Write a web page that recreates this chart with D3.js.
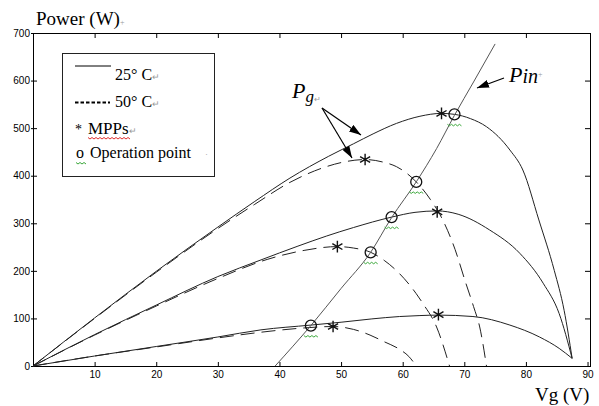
<!DOCTYPE html>
<html>
<head>
<meta charset="utf-8">
<script src="https://cdn.jsdelivr.net/npm/d3@7"></script>
<style>
	body { margin: 0; background: #fff; }
	svg { display: block; }
	.tick text { font-family: "Liberation Sans", Arial, sans-serif; font-size: 10px; fill: #000; }
	.tick line { stroke: #000; }
</style>
</head>
<body>
<div id="chart"></div>
<script>
// x axis (Vg) and y axis (power) ticks
const voltTicks = [10, 20, 30, 40, 50, 60, 70, 80, 90];
const powerTicks = [0, 100, 200, 300, 400, 500, 600, 700];

// Pg curves, [Vg, P]
const pg25High = [[0, 0], [10, 101], [20, 199], [30, 292], [36, 346], [41.7, 395], [48, 441], [52, 467], [55.2, 488], [59, 510], [62.8, 525], [66.3, 531], [68.4, 529], [71, 520], [73.6, 503], [77.4, 454], [79.5, 412], [82.1, 307], [84.6, 201], [86.2, 117], [87.5, 16]];
const pg50High = [[0, 0], [10, 100], [20, 197], [30, 289], [36, 340], [41.7, 386], [47.6, 419], [50.5, 429], [53.9, 434], [57, 428], [59, 419], [62.2, 387], [64.5, 350], [66.5, 307], [68.5, 245], [70.1, 180], [71.5, 125], [72.5, 82], [73.6, 0]];
const pg25Mid = [[0, 0], [10, 66], [20, 128], [30, 188], [37, 223], [43, 252], [47.6, 273], [52, 291], [58.2, 313], [62, 323], [65.6, 326], [69, 319], [74.1, 286], [79, 237], [82.8, 174], [85.4, 110], [87.5, 16]];
const pg50Mid = [[0, 0], [10, 65], [20, 126], [30, 184], [38, 224], [44, 243], [49.4, 251], [52, 248], [54.8, 239], [57, 222], [59.5, 194], [62.2, 152], [63.3, 131], [65.5, 82], [67.6, 0]];
const pg25Low = [[0, 0], [10, 21], [20, 41], [30, 61], [37, 76], [45.1, 86], [50, 92], [55, 99], [59.5, 104], [62.8, 106], [65.8, 107], [71.4, 104], [77.4, 86], [82.2, 61], [85.4, 37], [87.5, 16]];
const pg50Low = [[0, 0], [10, 21], [20, 40], [30, 59], [37, 71], [44, 80], [48.7, 83], [52, 77], [54.7, 65], [57, 51], [59.5, 35], [61, 20], [62.2, 0]];

// input power line
const pinCurve = [[39.3, 0], [45.1, 85], [50, 163], [54.8, 239], [58.2, 312], [62.2, 387], [65.5, 457], [68.4, 527], [71.5, 597], [75, 677]];

// maximum power points and operation points
const mppVolt = [66.3, 53.9, 65.6, 49.4, 65.8, 48.7];
const mppPower = [531, 434, 324, 251, 108, 83];
const opVolt = [68.4, 62.2, 58.2, 54.8, 45.1];
const opPower = [529, 387, 313, 239, 85];

const width = 599, height = 406;
const margin = { top: 33, right: 9, bottom: 40, left: 33 };

const svg = d3.select("#chart")
	.append("svg")
	.attr("width", width)
	.attr("height", height);

const x = d3.scaleLinear()
	.domain([0, 90.4])
	.range([margin.left, width - margin.right]);

const y = d3.scaleLinear()
	.domain([0, 700])
	.range([height - margin.bottom, margin.top]);

const serif = '"Liberation Serif", "Times New Roman", serif';

// axes, ticks point inwards
svg.append("g")
	.attr("transform", "translate(0," + y(0) + ")")
	.call(d3.axisBottom(x).tickValues(voltTicks).tickSize(-4).tickPadding(5))
	.call((g) => g.select(".domain").remove());

svg.append("g")
	.attr("transform", "translate(" + x(0) + ",0)")
	.call(d3.axisLeft(y).tickValues(powerTicks).tickSize(-4).tickPadding(3))
	.call((g) => g.select(".domain").remove())
	.call((g) => g.selectAll(".tick line").attr("x1", -2));

svg.append("g")
	.attr("transform", "translate(0," + y(700) + ")")
	.call(d3.axisTop(x).tickValues(voltTicks.slice(0, 8)).tickSize(-5).tickFormat(""))
	.call((g) => g.select(".domain").remove());

svg.append("g")
	.attr("transform", "translate(" + x.range()[1] + ",0)")
	.call(d3.axisRight(y).tickValues(powerTicks.slice(1, 7)).tickSize(-5).tickFormat(""))
	.call((g) => g.select(".domain").remove());

svg.append("rect")
	.attr("x", x(0))
	.attr("y", y(700))
	.attr("width", x.range()[1] - x(0))
	.attr("height", y(0) - y(700))
	.attr("fill", "none")
	.attr("stroke", "#000")
	.attr("shape-rendering", "crispEdges");

const line = d3.line()
	.x((d) => x(d[0]))
	.y((d) => y(d[1]))
	.curve(d3.curveMonotoneX);

const plot = svg.append("g");

[pg25High, pg25Mid, pg25Low].forEach((s) => {
	plot.append("path")
		.attr("d", line(s))
		.attr("fill", "none")
		.attr("stroke", "#222")
		.attr("stroke-width", 1);
});

[pg50High, pg50Mid, pg50Low].forEach((s) => {
	plot.append("path")
		.attr("d", line(s))
		.attr("fill", "none")
		.attr("stroke", "#222")
		.attr("stroke-width", 1)
		.attr("stroke-dasharray", "14,7");
});

plot.append("path")
	.attr("d", line(pinCurve))
	.attr("fill", "none")
	.attr("stroke", "#555")
	.attr("stroke-width", 1);

// markers
const star = d3.symbol().type(d3.symbolAsterisk).size(95);
plot.selectAll(".mpp")
	.data(mppVolt)
	.enter()
	.append("path")
	.attr("class", "mpp")
	.attr("d", star)
	.attr("transform", (d, i) => "translate(" + x(d) + "," + y(mppPower[i]) + ")")
	.attr("fill", "none")
	.attr("stroke", "#111")
	.attr("stroke-width", 1.4);

plot.selectAll(".op")
	.data(opVolt)
	.enter()
	.append("circle")
	.attr("class", "op")
	.attr("cx", (d) => x(d))
	.attr("cy", (d, i) => y(opPower[i]))
	.attr("r", 5.5)
	.attr("fill", "none")
	.attr("stroke", "#111")
	.attr("stroke-width", 1.3);

// the green squiggles under the operation points
const squiggle = (cx, cy, w) => {
	let p = "M" + (cx - w / 2) + "," + cy;
	for (let k = 1; k <= w / 2; k++) {
		p += "L" + (cx - w / 2 + k * 2) + "," + (cy + (k % 2 ? 1.5 : 0));
	}
	return p;
};
plot.selectAll(".sq")
	.data(opVolt)
	.enter()
	.append("path")
	.attr("class", "sq")
	.attr("d", (d, i) => squiggle(x(d), y(opPower[i]) + 10, 14))
	.attr("fill", "none")
	.attr("stroke", "#3aa83a")
	.attr("stroke-width", 1);

// arrows
svg.append("defs").append("marker")
	.attr("id", "head")
	.attr("viewBox", "0 0 12 8")
	.attr("refX", 12)
	.attr("refY", 4)
	.attr("markerWidth", 12)
	.attr("markerHeight", 8)
	.attr("markerUnits", "userSpaceOnUse")
	.attr("orient", "auto")
	.append("path")
	.attr("d", "M0,0L12,4L0,8Z")
	.attr("fill", "#000");

const arrow = (x1, y1, x2, y2) => {
	svg.append("line")
		.attr("x1", x1).attr("y1", y1)
		.attr("x2", x2).attr("y2", y2)
		.attr("stroke", "#000")
		.attr("stroke-width", 1.2)
		.attr("marker-end", "url(#head)");
};
arrow(322, 108, 361, 135);
arrow(322, 108, 352, 158);
arrow(504, 78, 477, 88);

// labels
const pg = svg.append("text")
	.attr("x", 292)
	.attr("y", 98)
	.attr("font-family", serif)
	.attr("font-style", "italic")
	.attr("font-size", 22);
pg.append("tspan").text("P");
pg.append("tspan").attr("dy", 4).attr("font-size", 17).text("g");
pg.append("tspan").attr("font-size", 8).attr("font-style", "normal").attr("fill", "#999").text("↵");

const pin = svg.append("text")
	.attr("x", 509)
	.attr("y", 82)
	.attr("font-family", serif)
	.attr("font-style", "italic")
	.attr("font-size", 22);
pin.append("tspan").text("P");
pin.append("tspan").attr("dy", 1).attr("font-size", 20).text("in");
pin.append("tspan").attr("dy", -6).attr("font-size", 8).attr("font-style", "normal").attr("fill", "#999").text("+");

svg.append("text")
	.attr("x", 36)
	.attr("y", 25)
	.attr("font-family", serif)
	.attr("font-size", 19)
	.text("Power (W)")
	.append("tspan")
	.attr("font-size", 8)
	.attr("fill", "#999")
	.text("+");

svg.append("text")
	.attr("x", 535)
	.attr("y", 401)
	.attr("font-family", serif)
	.attr("font-size", 19)
	.text("Vg (V)");

// legend
const legend = svg.append("g");
legend.append("rect")
	.attr("x", 62.5)
	.attr("y", 53.5)
	.attr("width", 152)
	.attr("height", 123)
	.attr("fill", "#fff")
	.attr("stroke", "#222");

legend.append("line")
	.attr("x1", 75).attr("x2", 111)
	.attr("y1", 66).attr("y2", 66)
	.attr("stroke", "#000");
legend.append("line")
	.attr("x1", 75).attr("x2", 110)
	.attr("y1", 102.5).attr("y2", 102.5)
	.attr("stroke", "#000")
	.attr("stroke-width", 2)
	.attr("stroke-dasharray", "3.5,2");

const legText = (tx, ty, size, str) => {
	const t = legend.append("text")
		.attr("x", tx)
		.attr("y", ty)
		.attr("font-family", serif)
		.attr("font-size", size)
		.text(str);
	return t;
};
legText(115, 80, 16, "25° C").append("tspan").attr("font-size", 9).attr("fill", "#999").text("↵");
legText(115, 107, 16, "50° C").append("tspan").attr("font-size", 9).attr("fill", "#999").text("↵");
legText(75, 134, 14, "*");
legText(88, 134, 17, "MPPs").append("tspan").attr("font-size", 9).attr("fill", "#999").text("↵");
legText(76, 158, 16, "o");
legText(90, 158, 16, "Operation point");
legText(205, 157, 9, "·").attr("fill", "#999");

legend.append("path")
	.attr("d", squiggle(109, 137.5, 42))
	.attr("fill", "none")
	.attr("stroke", "#e03030")
	.attr("stroke-width", 1);
legend.append("path")
	.attr("d", squiggle(81, 162.5, 10))
	.attr("fill", "none")
	.attr("stroke", "#3aa83a")
	.attr("stroke-width", 1);
</script>
</body>
</html>
